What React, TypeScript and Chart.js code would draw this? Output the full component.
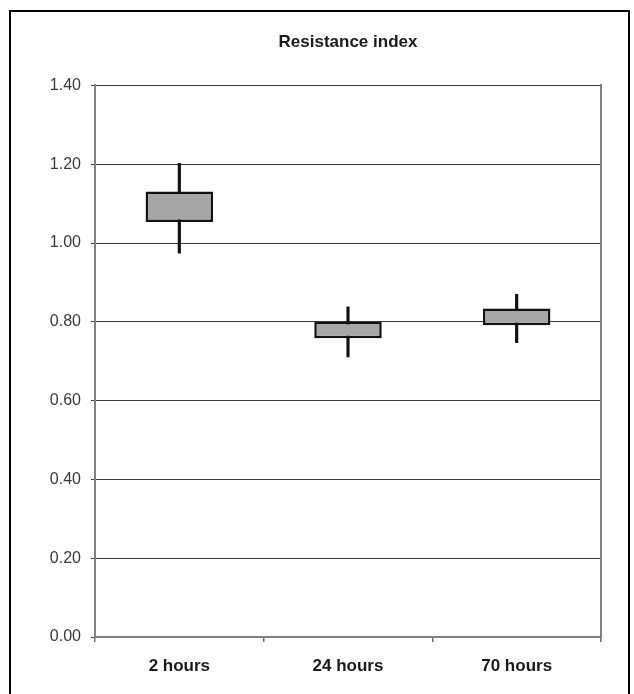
import React, { useEffect, useRef } from "react";
import { Chart, registerables } from "chart.js";

Chart.register(...registerables);

const categories = ["2 hours", "24 hours", "70 hours"];
const whiskerMin = [0.974, 0.711, 0.747];
const boxLow = [1.053, 0.758, 0.791];
const boxHigh = [1.131, 0.8, 0.834];
const whiskerMax = [1.202, 0.838, 0.87];
const yTicks = [0, 0.2, 0.4, 0.6, 0.8, 1.0, 1.2, 1.4];

const FONT = "'Liberation Sans', Arial, sans-serif";

export default function App() {
  const ref = useRef<HTMLCanvasElement>(null);
  useEffect(() => {
    if (!ref.current) return;
    const chart = new Chart(ref.current, {
      type: "bar",
      data: {
        labels: categories,
        datasets: [
          {
            label: "box",
            data: categories.map((_, i) => [boxLow[i], boxHigh[i]]),
            backgroundColor: "#a6a6a6",
            borderColor: "#111111",
            borderWidth: 2.5,
            borderSkipped: false,
            grouped: false,
            barPercentage: 0.4,
            categoryPercentage: 1,
            order: 0,
          } as any,
          {
            label: "whisker",
            data: categories.map((_, i) => [whiskerMin[i], whiskerMax[i]]),
            backgroundColor: "#111111",
            borderWidth: 0,
            grouped: false,
            barThickness: 2.5,
            order: 1,
          } as any,
        ],
      },
      options: {
        animation: false,
        responsive: false,
        maintainAspectRatio: false,
        layout: { padding: { left: 0, right: 27, top: 0, bottom: 25 } },
        plugins: {
          legend: { display: false },
          tooltip: { enabled: false },
          title: {
            display: true,
            fullSize: false,
            text: "Resistance index",
            color: "#1a1a1a",
            font: { family: FONT, size: 17, weight: "bold" },
            padding: { top: 20, bottom: 33 },
          },
        },
        scales: {
          x: {
            type: "category",
            offset: true,
            afterFit: (s: any) => {
              s.height = 40;
            },
            grid: {
              offset: true,
              drawOnChartArea: false,
              drawTicks: true,
              tickLength: 5,
              color: "#707070",
              lineWidth: 1.5,
            },
            border: { display: true, color: "#808080", width: 2 },
            ticks: {
              color: "#1a1a1a",
              padding: 14,
              font: { family: FONT, size: 17, weight: "bold" },
            },
          },
          y: {
            type: "linear",
            min: 0,
            max: 1.4,
            afterBuildTicks: (s: any) => {
              s.ticks = yTicks.map((v) => ({ value: v }));
            },
            afterFit: (s: any) => {
              s.width = 84;
            },
            grid: {
              color: "#3a3a3a",
              lineWidth: 1,
              tickLength: 4,
            },
            border: { display: true, color: "#808080", width: 2 },
            ticks: {
              color: "#3a3a3a",
              padding: 10,
              font: { family: FONT, size: 16 },
              callback: (v: any) => Number(v).toFixed(2),
            },
          },
          yRight: {
            type: "linear",
            position: "right",
            min: 0,
            max: 1.4,
            afterFit: (s: any) => {
              s.width = 0;
            },
            grid: { display: false, drawTicks: false },
            ticks: { display: false },
            border: { display: true, color: "#808080", width: 2 },
          },
        },
      } as any,
    });
    return () => chart.destroy();
  }, []);

  return (
    <div
      style={{
        position: "fixed",
        left: 0,
        top: 0,
        width: 634,
        height: 694,
        overflow: "hidden",
        background: "#fff",
      }}
    >
      <div
        style={{
          position: "absolute",
          left: 9,
          top: 10,
          width: 617,
          height: 720,
          border: "2px solid #000",
          background: "#fff",
        }}
      >
        <canvas
          ref={ref}
          width={617}
          height={690}
          style={{ position: "absolute", left: 0, top: 0, width: 617, height: 690 }}
        />
      </div>
    </div>
  );
}
